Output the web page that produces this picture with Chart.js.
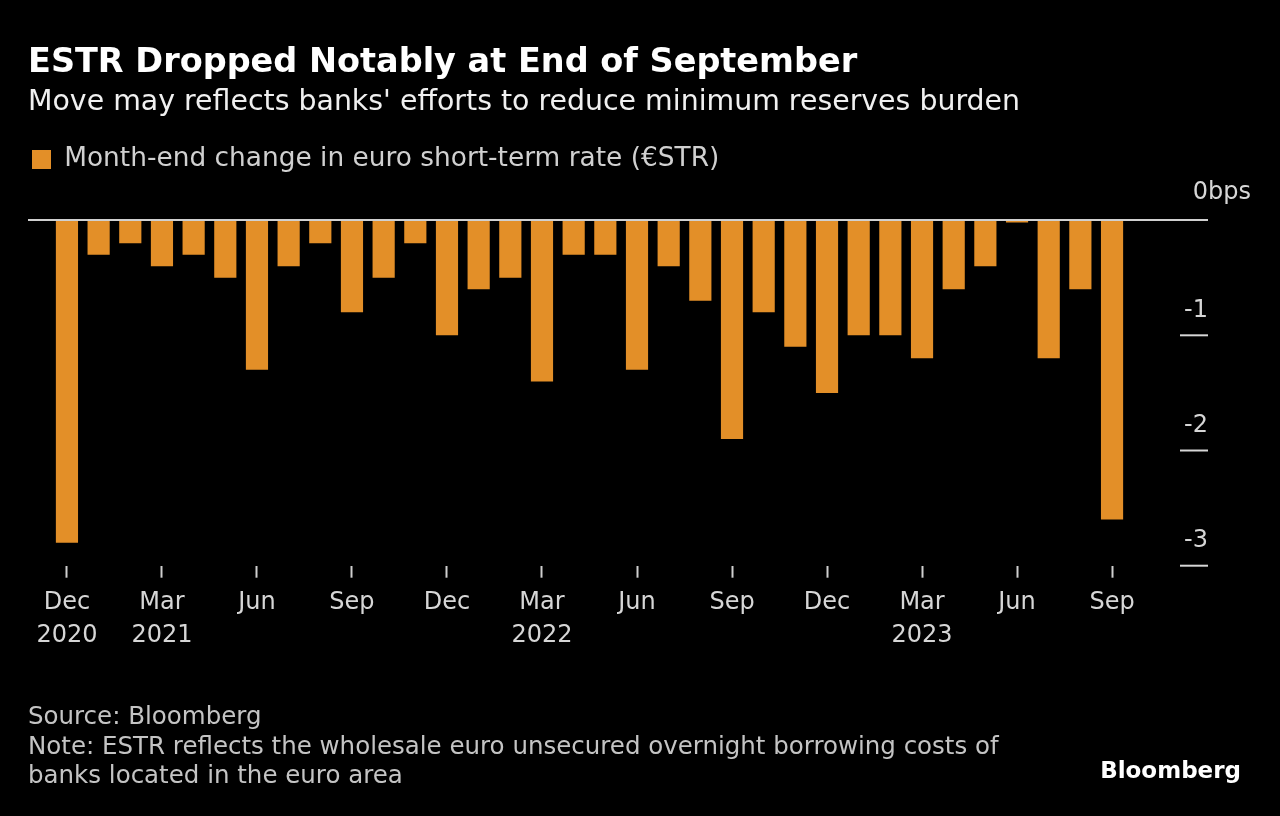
<!DOCTYPE html>
<html>
<head>
<meta charset="utf-8">
<script src="https://cdn.jsdelivr.net/npm/chart.js@4.4.1/dist/chart.umd.min.js"></script>
<style>
  html, body { margin: 0; padding: 0; background: #000; }
  #chart { display: block; }
</style>
</head>
<body>
<canvas id="chart" width="1280" height="816"></canvas>
<script>
// months shown as bars
const months = [
  "Dec 2020", "Jan 2021", "Feb 2021", "Mar 2021", "Apr 2021", "May 2021", "Jun 2021",
  "Jul 2021", "Aug 2021", "Sep 2021", "Oct 2021", "Nov 2021", "Dec 2021",
  "Jan 2022", "Feb 2022", "Mar 2022", "Apr 2022", "May 2022", "Jun 2022",
  "Jul 2022", "Aug 2022", "Sep 2022", "Oct 2022", "Nov 2022", "Dec 2022",
  "Jan 2023", "Feb 2023", "Mar 2023", "Apr 2023", "May 2023", "Jun 2023",
  "Jul 2023", "Aug 2023", "Sep 2023"
];
// month-end change in bps
const estrChange = [
  -2.8, -0.3, -0.2, -0.4, -0.3, -0.5, -1.3,
  -0.4, -0.2, -0.8, -0.5, -0.2, -1.0,
  -0.6, -0.5, -1.4, -0.3, -0.3, -1.3,
  -0.4, -0.7, -1.9, -0.8, -1.1, -1.5,
  -1.0, -1.0, -1.2, -0.6, -0.4, -0.02,
  -1.2, -0.6, -2.6
];
// x-axis ticks (index into months) and their labels
const xTickIndex = [0, 3, 6, 9, 12, 15, 18, 21, 24, 27, 30, 33];
const xTickLabels = [
  ["Dec", "2020"], ["Mar", "2021"], "Jun", "Sep", "Dec", ["Mar", "2022"],
  "Jun", "Sep", "Dec", ["Mar", "2023"], "Jun", "Sep"
];
const yTicks = [0, -1, -2, -3];

const FONT = "'DejaVu Sans', sans-serif";

// y labels sit above short tick marks on the right, plus footer text
const annotPlugin = {
  id: "annotPlugin",
  afterDraw: (chart) => {
    const ctx = chart.ctx;
    const y = chart.scales.y;
    const right = chart.chartArea.right;
    ctx.save();
    ctx.font = "24px " + FONT;
    ctx.fillStyle = "#d6d6d6";
    ctx.strokeStyle = "#d6d6d6";
    ctx.lineWidth = 2;
    ctx.textBaseline = "middle";
    yTicks.forEach((v) => {
      const py = y.getPixelForValue(v);
      if (v === 0) {
        const w0 = ctx.measureText("0").width;
        ctx.textAlign = "left";
        ctx.fillText("0bps", right - w0, py - 27);
      } else {
        ctx.textAlign = "right";
        ctx.fillText(String(v), right, py - 25);
        ctx.beginPath();
        ctx.moveTo(right - 28, py);
        ctx.lineTo(right, py);
        ctx.stroke();
      }
    });

    // footer
    ctx.textAlign = "left";
    ctx.font = "24.5px " + FONT;
    ctx.fillStyle = "#c4c4c4";
    ctx.fillText("Source: Bloomberg", 28, 718);
    ctx.fillText("Note: ESTR reflects the wholesale euro unsecured overnight borrowing costs of", 28, 748);
    ctx.fillText("banks located in the euro area", 28, 777);
    ctx.font = "bold 23px " + FONT;
    ctx.fillStyle = "#ffffff";
    ctx.textAlign = "right";
    ctx.fillText("Bloomberg", 1241, 772);
    ctx.restore();
  },
};

const chart = new Chart(document.getElementById("chart").getContext("2d"), {
  type: "bar",
  data: {
    datasets: [
      {
        label: "Month-end change in euro short-term rate (€STR)",
        data: estrChange.map((v, i) => ({ x: i, y: v })),
        backgroundColor: "#E38F28",
        borderWidth: 0,
        categoryPercentage: 1,
        barPercentage: 0.7,
      },
    ],
  },
  options: {
    responsive: false,
    animation: false,
    layout: { padding: { left: 28, right: 72, top: 0, bottom: 155.5 } },
    plugins: {
      title: {
        display: true,
        text: "ESTR Dropped Notably at End of September",
        align: "start",
        color: "#ffffff",
        font: { family: FONT, size: 33.5, weight: "bold", lineHeight: 1.2 },
        padding: { top: 43, bottom: 2 },
      },
      subtitle: {
        display: true,
        text: "Move may reflects banks' efforts to reduce minimum reserves burden",
        align: "start",
        color: "#f0f0f0",
        font: { family: FONT, size: 28.4, lineHeight: 1.2 },
        padding: { top: 0, bottom: 23 },
      },
      legend: {
        display: true,
        position: "top",
        align: "start",
        labels: {
          boxWidth: 19,
          boxHeight: 19,
          padding: 4,
          color: "#d0d0d0",
          font: { family: FONT, size: 26.4 },
        },
      },
      tooltip: { enabled: false },
    },
    scales: {
      x: {
        type: "linear",
        offset: false,
        min: -1.23,
        max: 36.03,
        afterBuildTicks: (scale) => {
          scale.ticks = xTickIndex.map((v) => ({ value: v }));
        },
        ticks: {
          autoSkip: false,
          maxRotation: 0,
          padding: 9,
          color: "#d6d6d6",
          font: { family: FONT, size: 24, lineHeight: 1.35 },
          callback: (value) => xTickLabels[xTickIndex.indexOf(value)],
        },
        grid: {
          offset: false,
          drawOnChartArea: false,
          drawTicks: true,
          tickLength: 12,
          tickWidth: 2,
          tickColor: "#cfcfcf",
        },
        border: { display: false },
      },
      y: {
        position: "right",
        min: -3,
        max: 0.325,
        afterBuildTicks: (scale) => {
          scale.ticks = yTicks.map((v) => ({ value: v }));
        },
        ticks: { display: false },
        grid: {
          drawTicks: false,
          lineWidth: 2,
          color: (c) => (c.tick && c.tick.value === 0 ? "#d0d0d0" : "transparent"),
        },
        border: { display: false },
      },
    },
  },
  plugins: [annotPlugin],
});
</script>
</body>
</html>
